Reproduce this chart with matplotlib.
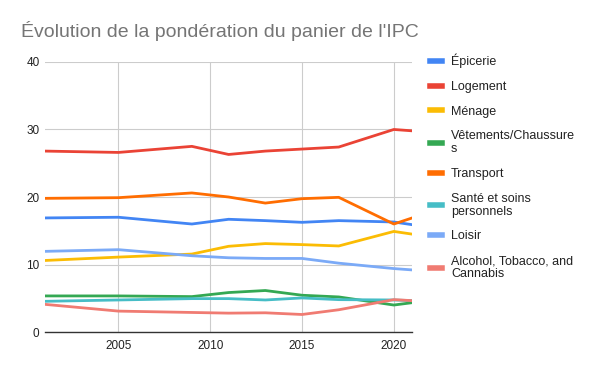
import matplotlib
matplotlib.use("Agg")
import matplotlib.pyplot as plt

plt.rcParams['font.family'] = ['Liberation Sans', 'DejaVu Sans']

years = [2001, 2005, 2009, 2011, 2013, 2015, 2017, 2020, 2021]

epicerie = [16.9, 17.0, 16.0, 16.7, 16.5, 16.25, 16.5, 16.3, 15.9]
logement = [26.8, 26.6, 27.5, 26.3, 26.8, 27.1, 27.4, 30.0, 29.8]
menage = [10.6, 11.1, 11.55, 12.7, 13.1, 12.95, 12.75, 14.9, 14.5]
vetements = [5.35, 5.35, 5.25, 5.85, 6.15, 5.45, 5.2, 4.0, 4.35]
transport = [19.8, 19.9, 20.6, 20.0, 19.1, 19.75, 19.95, 16.0, 16.9]
sante = [4.55, 4.75, 4.95, 4.95, 4.75, 5.05, 4.8, 4.75, 4.65]
loisir = [11.95, 12.2, 11.3, 11.0, 10.9, 10.9, 10.2, 9.4, 9.2]
alcool = [4.1, 3.1, 2.9, 2.8, 2.85, 2.6, 3.3, 4.8, 4.65]

labels = ["Épicerie", "Logement", "Ménage", "Vêtements/Chaussure\ns",
          "Transport", "Santé et soins\npersonnels", "Loisir",
          "Alcohol, Tobacco, and\nCannabis"]
series = [epicerie, logement, menage, vetements, transport, sante, loisir, alcool]
colors = ["#4285f4", "#ea4335", "#fbbc04", "#34a853", "#ff6d01",
          "#46bdc6", "#7baaf7", "#f07b72"]

fig = plt.figure(figsize=(6, 3.71), dpi=100)
ax = fig.add_axes([0.075, 0.105, 0.612, 0.728])

for vals, lab, c in zip(series, labels, colors):
    ax.plot(years, vals, color=c, lw=2, label=lab, solid_joinstyle='round')

ax.set_xlim(2001, 2021)
ax.set_ylim(0, 40)
ax.set_xticks([2005, 2010, 2015, 2020])
ax.set_yticks([0, 10, 20, 30, 40])
ax.grid(True, color="#cccccc", lw=0.8)
ax.set_axisbelow(True)
for s in ["top", "right", "left"]:
    ax.spines[s].set_visible(False)
ax.spines["bottom"].set_color("#333333")
ax.spines["bottom"].set_linewidth(1)
ax.tick_params(length=0, labelsize=8.5, colors="#222222")
ax.tick_params(axis="y", pad=4)
ax.tick_params(axis="x", pad=6)

fig.text(0.035, 0.899, "Évolution de la pondération du panier de l'IPC",
         fontsize=14, color="#757575", va="baseline")

leg = fig.legend(loc="upper left", bbox_to_anchor=(0.708, 0.868), frameon=False,
                 fontsize=9, handlelength=0.95, handletextpad=0.75,
                 labelspacing=1.01, borderaxespad=0)
for h in leg.get_lines():
    h.set_linewidth(4)
for t in leg.get_texts():
    t.set_color("#222222")
    t.set_linespacing(1.12)

fig.savefig("out.png", dpi=100)
